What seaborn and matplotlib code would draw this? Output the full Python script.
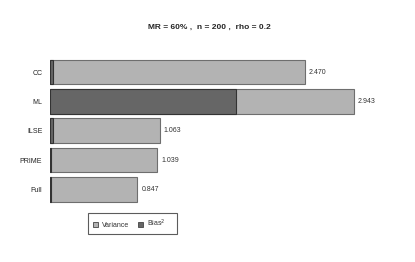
import numpy as np
import pandas as pd
import matplotlib
matplotlib.use('Agg')
import matplotlib.pyplot as plt
import seaborn as sns
from matplotlib.patches import Patch

# du lieu doc tu hinh
methods = ['CC', 'ML', 'ILSE', 'PRIME', 'Full']
total = [2.470, 2.943, 1.063, 1.039, 0.847]
bias2 = [0.03, 1.80, 0.03, 0.01, 0.005]
labels = ['2.470', '2.943', '1.063', '1.039', '0.847']

sns.set_style('white')
plt.rcParams['font.family'] = ['Liberation Sans', 'DejaVu Sans']

df = pd.DataFrame({'method': methods, 'total': total, 'bias2': bias2})

fig = plt.figure(figsize=(4.15, 2.62), dpi=100)
W, H = 415, 262
ax = fig.add_axes([50 / W, 1 - 207 / H, 340 / W, 152 / H])

light = '#b3b3b3'
dark = '#666666'
sns.barplot(data=df, y='method', x='total', orient='h', color=light,
            saturation=1, width=0.845, edgecolor='#6e6e6e', linewidth=0.8, ax=ax)
sns.barplot(data=df, y='method', x='bias2', orient='h', color=dark,
            saturation=1, width=0.845, edgecolor='#333333', linewidth=0.8, ax=ax)

for i, (t, lab) in enumerate(zip(total, labels)):
    ax.text(t + 0.04, i, lab, va='center', ha='left', fontsize=5, color='#333333')

ax.set_xlim(0, 340 / 103.2)
ax.set_ylim(4.6, -0.58)
ax.set_xlabel('')
ax.set_ylabel('')
ax.set_xticks([])
ax.tick_params(axis='y', length=0, labelsize=5, pad=5.5, labelcolor='#222222')
sns.despine(ax=ax, left=True, bottom=True)

fig.text(209 / W, 1 - 27 / H, 'MR = 60% ,  n = 200 ,  rho = 0.2',
         ha='center', va='center', fontsize=6, fontweight='bold')

handles = [Patch(facecolor=light, edgecolor='#444444', linewidth=0.6, label='Variance'),
           Patch(facecolor=dark, edgecolor='#444444', linewidth=0.6, label='Bias$^2$    ')]
leg = fig.legend(handles=handles, loc='center', bbox_to_anchor=(132.5 / W, 1 - 223.5 / H),
                 ncol=2, fontsize=5, frameon=True, fancybox=False,
                 handlelength=0.7, handleheight=0.7, handletextpad=0.6, columnspacing=1.2,
                 borderpad=0.75, labelcolor='#333333')
leg.get_frame().set_edgecolor('#333333')
leg.get_frame().set_linewidth(0.8)

fig.savefig('out.png', dpi=100)
